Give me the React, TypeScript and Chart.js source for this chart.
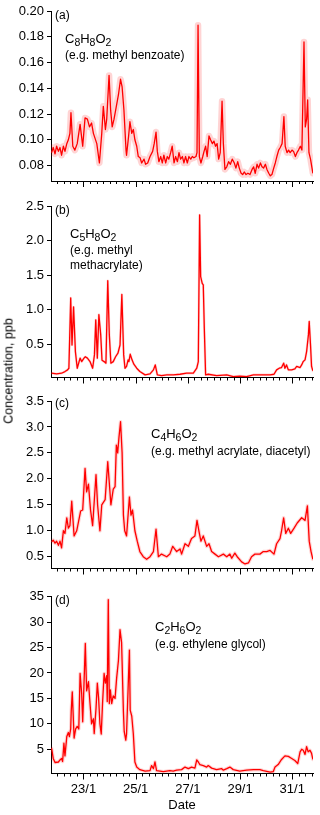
import React, { useEffect, useRef } from 'react';
import { Chart, registerables } from 'chart.js';

Chart.register(...registerables);

const FONT = '"Liberation Sans", Arial, Helvetica, sans-serif';
const AXIS = '#000000';
const LINE = '#ff0000';

// ---- x axis (days of January) ----
const X_MIN = 21.755;
const X_MAX = 31.795;
const X_LABEL_DAYS = [23, 25, 27, 29, 31];
const X_MONTH = 1;

// ---- (a) C8H8O2 ----
const A_T = [21.78,21.84,21.91,21.97,22.04,22.10,22.16,22.23,22.29,22.36,
  22.42,22.48,22.52,22.59,22.67,22.76,22.87,22.97,23.06,23.15,
  23.23,23.31,23.38,23.51,23.61,23.70,23.76,23.84,23.89,23.98,
  24.04,24.10,24.17,24.25,24.34,24.42,24.48,24.55,24.63,24.65,
  24.73,24.78,24.85,24.91,24.97,25.04,25.10,25.17,25.23,25.32,
  25.38,25.46,25.55,25.65,25.71,25.78,25.83,25.89,25.96,26.02,
  26.08,26.15,26.21,26.27,26.34,26.40,26.47,26.53,26.60,26.66,
  26.72,26.79,26.85,26.91,26.98,27.04,27.11,27.17,27.23,27.31,
  27.35,27.39,27.44,27.50,27.57,27.62,27.68,27.74,27.81,27.87,
  27.94,28.00,28.06,28.12,28.18,28.24,28.31,28.36,28.42,28.49,
  28.56,28.63,28.70,28.78,28.84,28.91,28.97,29.04,29.10,29.16,
  29.23,29.30,29.38,29.46,29.52,29.58,29.65,29.71,29.78,29.84,
  29.90,29.97,30.03,30.10,30.16,30.22,30.29,30.35,30.41,30.48,
  30.54,30.61,30.68,30.73,30.80,30.86,30.92,30.99,31.05,31.12,
  31.18,31.24,31.31,31.37,31.45,31.50,31.55,31.59,31.64,31.70,
  31.79];
const A_V = [0.090,0.094,0.089,0.095,0.091,0.094,0.088,0.095,0.091,0.097,
  0.100,0.105,0.121,0.095,0.092,0.097,0.112,0.095,0.117,0.116,
  0.110,0.113,0.105,0.097,0.082,0.105,0.126,0.108,0.116,0.150,
  0.123,0.110,0.116,0.125,0.135,0.147,0.141,0.123,0.092,0.088,
  0.103,0.114,0.105,0.108,0.100,0.095,0.087,0.086,0.082,0.085,
  0.081,0.082,0.087,0.091,0.097,0.106,0.091,0.083,0.087,0.082,
  0.088,0.082,0.087,0.085,0.090,0.095,0.082,0.087,0.083,0.090,
  0.085,0.087,0.082,0.087,0.082,0.087,0.085,0.087,0.086,0.087,
  0.090,0.189,0.087,0.082,0.087,0.091,0.095,0.087,0.103,0.100,
  0.097,0.099,0.095,0.097,0.085,0.090,0.130,0.097,0.077,0.079,
  0.083,0.081,0.085,0.082,0.078,0.083,0.078,0.074,0.073,0.075,
  0.073,0.074,0.073,0.077,0.079,0.074,0.081,0.078,0.082,0.079,
  0.078,0.081,0.077,0.074,0.072,0.073,0.078,0.082,0.087,0.092,
  0.094,0.097,0.118,0.095,0.090,0.092,0.090,0.092,0.091,0.087,
  0.090,0.092,0.095,0.092,0.176,0.110,0.116,0.131,0.090,0.085,
  0.074];
const A_YTICKS = [0.08, 0.10, 0.12, 0.14, 0.16, 0.18, 0.20];

// ---- (b) C5H8O2 ----
const B_T = [21.78,21.97,22.16,22.29,22.39,22.44,22.51,22.56,22.62,22.69,
  22.76,22.87,22.93,23.02,23.07,23.15,23.25,23.35,23.42,23.47,
  23.53,23.59,23.66,23.71,23.79,23.86,23.93,23.99,24.05,24.14,
  24.23,24.32,24.40,24.47,24.54,24.59,24.65,24.71,24.74,24.79,
  24.86,24.93,25.04,25.16,25.36,25.55,25.68,25.75,25.83,25.99,
  26.19,26.44,26.70,26.95,27.21,27.34,27.40,27.45,27.49,27.55,
  27.59,27.63,27.68,27.78,28.10,28.49,28.74,28.99,29.25,29.51,
  29.89,30.15,30.30,30.40,30.50,30.59,30.67,30.72,30.78,30.85,
  30.98,31.10,31.17,31.30,31.36,31.42,31.49,31.55,31.62,31.65,
  31.70,31.74,31.79];
const B_V = [0.082,0.072,0.082,0.106,0.130,0.154,1.17,0.49,1.04,0.395,
  0.154,0.30,0.25,0.30,0.32,0.30,0.25,0.154,0.347,0.853,
  0.30,0.93,0.636,0.27,0.25,0.227,1.42,0.636,0.227,0.25,
  0.32,0.371,0.49,1.22,0.347,0.154,0.18,0.275,0.25,0.356,
  0.275,0.212,0.154,0.106,0.058,0.072,0.13,0.202,0.058,0.048,
  0.058,0.058,0.067,0.082,0.082,0.154,0.25,2.37,1.48,1.38,
  1.36,0.73,0.058,0.067,0.048,0.058,0.034,0.04,0.034,0.058,
  0.058,0.058,0.067,0.13,0.154,0.164,0.227,0.154,0.202,0.13,
  0.13,0.145,0.18,0.164,0.202,0.25,0.275,0.395,0.64,0.83,
  0.49,0.18,0.116];
const B_YTICKS = [0.5, 1.0, 1.5, 2.0, 2.5];

// ---- (c) C4H6O2 ----
const C_T = [21.78,21.84,21.91,21.97,22.04,22.10,22.16,22.23,22.29,22.36,
  22.42,22.48,22.55,22.64,22.74,22.89,22.97,23.06,23.12,23.19,
  23.27,23.35,23.48,23.54,23.63,23.70,23.83,23.93,24.05,24.14,
  24.21,24.26,24.31,24.36,24.42,24.48,24.53,24.58,24.65,24.76,
  24.82,24.88,24.97,25.06,25.16,25.29,25.42,25.55,25.68,25.78,
  25.87,25.99,26.19,26.31,26.42,26.57,26.70,26.76,26.89,27.02,
  27.14,27.27,27.35,27.44,27.50,27.59,27.72,27.81,27.91,28.04,
  28.17,28.36,28.49,28.61,28.68,28.80,28.89,29.06,29.19,29.32,
  29.44,29.57,29.76,29.89,30.02,30.15,30.30,30.40,30.53,30.59,
  30.67,30.75,30.85,30.94,31.07,31.19,31.36,31.49,31.58,31.65,
  31.72,31.79];
const C_V = [0.79,0.82,0.76,0.80,0.72,0.80,0.67,1.00,0.95,1.25,
  1.05,1.10,1.57,0.90,1.00,1.38,1.40,2.20,1.75,1.90,
  1.40,1.10,2.08,1.50,1.00,1.50,1.60,2.33,1.50,1.80,
  1.85,2.65,2.50,2.80,3.10,2.50,1.30,1.00,0.90,1.65,
  1.30,1.40,1.00,0.80,0.60,0.50,0.45,0.50,0.60,1.03,
  0.50,0.55,0.50,0.55,0.70,0.60,0.65,0.55,0.75,0.70,
  0.85,0.90,1.20,0.95,0.80,0.90,0.70,0.75,0.60,0.55,
  0.50,0.55,0.50,0.55,0.47,0.57,0.50,0.40,0.36,0.38,
  0.50,0.55,0.55,0.60,0.60,0.62,0.55,0.75,0.85,1.00,
  1.25,0.95,1.05,0.95,1.05,1.15,1.25,1.20,1.48,0.80,
  0.60,0.45];
const C_YTICKS = [0.5, 1.0, 1.5, 2.0, 2.5, 3.0, 3.5];

// ---- (d) C2H6O2 ----
const D_T = [21.78,21.84,21.91,22.04,22.10,22.16,22.20,22.25,22.29,22.36,
  22.42,22.46,22.51,22.53,22.57,22.64,22.70,22.76,22.82,22.87,
  22.93,22.97,23.02,23.07,23.12,23.19,23.25,23.31,23.38,23.41,
  23.48,23.53,23.58,23.63,23.68,23.73,23.79,23.84,23.89,23.91,
  23.95,23.99,24.03,24.08,24.14,24.21,24.27,24.34,24.40,24.46,
  24.53,24.56,24.62,24.65,24.71,24.76,24.79,24.85,24.91,24.97,
  25.04,25.16,25.36,25.55,25.61,25.68,25.74,25.80,26.06,26.31,
  26.44,26.57,26.76,26.89,27.02,27.14,27.27,27.34,27.40,27.46,
  27.59,27.72,27.78,27.91,28.10,28.29,28.36,28.49,28.61,28.74,
  28.99,29.25,29.51,29.76,29.89,30.15,30.27,30.34,30.46,30.59,
  30.72,30.85,30.98,31.10,31.21,31.30,31.36,31.42,31.49,31.55,
  31.61,31.68,31.74,31.79];
const D_V = [5.2,3.2,2.4,2.5,2.9,3.2,2.6,6.2,3.7,7.5,
  8.3,7.5,9.0,12.5,16.3,7.2,9.0,9.5,9.0,19.9,
  16.0,10.4,18.0,25.8,16.5,18.3,14.0,10.0,11.0,8.1,
  13.0,18.0,15.0,10.0,8.0,14.0,19.9,18.0,19.5,14.4,
  34.4,14.0,16.7,14.0,15.5,15.0,19.0,22.5,28.5,26.0,
  12.4,8.5,6.8,8.0,17.0,24.5,12.7,11.5,8.0,2.5,
  1.5,1.0,0.7,0.8,1.8,1.2,2.5,0.8,0.6,0.8,
  0.7,0.9,1.0,1.5,1.2,1.5,1.3,2.9,2.5,2.0,
  1.8,1.5,1.8,1.3,1.0,1.2,0.9,1.2,1.5,1.0,
  0.7,0.9,1.0,1.0,0.8,0.5,0.6,1.5,2.0,3.0,
  3.7,3.6,3.2,2.8,2.2,4.5,5.0,4.8,4.0,5.5,
  4.5,4.8,4.2,3.0];
const D_YTICKS = [5, 10, 15, 20, 25, 30, 35];

const Y_TITLE = 'Concentration, ppb';
const X_TITLE = 'Date';

type Panel = {
  letter: string; formula: string; notes: string[];
  t: number[]; v: number[]; yTicks: number[]; yMin: number; yMax: number; decimals: number;
  band: number; areaTop: number; areaBottom: number; canvasTop: number; canvasHeight: number;
  textX: number; formulaBase: number; noteBase: number; letterBase: number; last: boolean;
};

const PANELS: Panel[] = [
  { letter: '(a)', formula: 'C8H8O2', notes: ['(e.g. methyl benzoate)'], t: A_T, v: A_V, yTicks: A_YTICKS,
    yMin: 0.068, yMax: 0.20, decimals: 2, band: 6.5, areaTop: 11, areaBottom: 181, canvasTop: 0, canvasHeight: 195,
    textX: 65, formulaBase: 43, noteBase: 59, letterBase: 19, last: false },
  { letter: '(b)', formula: 'C5H8O2', notes: ['(e.g. methyl', 'methacrylate)'], t: B_T, v: B_V, yTicks: B_YTICKS,
    yMin: 0.02, yMax: 2.5, decimals: 1, band: 2.5, areaTop: 206, areaBottom: 377.5, canvasTop: 195, canvasHeight: 195,
    textX: 70, formulaBase: 238, noteBase: 254, letterBase: 214, last: false },
  { letter: '(c)', formula: 'C4H6O2', notes: ['(e.g. methyl acrylate, diacetyl)'], t: C_T, v: C_V, yTicks: C_YTICKS,
    yMin: 0.273, yMax: 3.5, decimals: 1, band: 3.5, areaTop: 401, areaBottom: 568.5, canvasTop: 390, canvasHeight: 195,
    textX: 151, formulaBase: 438, noteBase: 455, letterBase: 407, last: false },
  { letter: '(d)', formula: 'C2H6O2', notes: ['(e.g. ethylene glycol)'], t: D_T, v: D_V, yTicks: D_YTICKS,
    yMin: 0.24, yMax: 35, decimals: 0, band: 3.5, areaTop: 596.7, areaBottom: 773.5, canvasTop: 585, canvasHeight: 230,
    textX: 155, formulaBase: 631, noteBase: 648, letterBase: 604, last: true },
];

function PanelChart({ p }: { p: Panel }) {
  const ref = useRef<HTMLCanvasElement | null>(null);
  useEffect(() => {
    const canvas = ref.current;
    if (!canvas) return;
    const top = p.canvasTop;
    const xHeight = p.canvasTop + p.canvasHeight - p.areaBottom;
    const pts = p.t.map((t, i) => ({ x: t, y: p.v[i] }));
    const decor = {
      id: 'decor',
      afterDraw(chart: any) {
        const ctx = chart.ctx;
        const xs = chart.scales.x;
        const area = chart.chartArea;
        ctx.save();
        ctx.strokeStyle = AXIS;
        ctx.lineWidth = 1;
        xs.ticks.forEach((tk: any) => {
          const px = Math.round(xs.getPixelForValue(tk.value)) + 0.5;
          const major = X_LABEL_DAYS.includes(tk.value);
          ctx.beginPath();
          ctx.moveTo(px, area.bottom);
          ctx.lineTo(px, area.bottom + (major ? 6 : 3));
          ctx.stroke();
        });
        ctx.fillStyle = '#000';
        ctx.textAlign = 'left';
        ctx.textBaseline = 'alphabetic';
        ctx.font = `12px ${FONT}`;
        ctx.fillText(p.letter, 55, p.letterBase - top);
        let x = p.textX;
        for (const ch of p.formula) {
          const sub = /[0-9]/.test(ch);
          ctx.font = sub ? `10.5px ${FONT}` : `13px ${FONT}`;
          ctx.fillText(ch, x, p.formulaBase - top + (sub ? 3 : 0));
          x += ctx.measureText(ch).width;
        }
        ctx.font = `12px ${FONT}`;
        p.notes.forEach((line, i) => ctx.fillText(line, p.textX, p.noteBase - top + i * 15));
        ctx.restore();
      },
    };
    const chart = new Chart(canvas, {
      type: 'line',
      data: {
        datasets: [
          { data: pts, borderColor: LINE, borderWidth: 1.3, borderJoinStyle: 'round', pointRadius: 0, tension: 0, fill: false },
          { data: pts, borderColor: 'rgba(255,0,0,0.17)', borderWidth: p.band, borderJoinStyle: 'round', borderCapStyle: 'round', pointRadius: 0, tension: 0, fill: false },
        ],
      },
      options: {
        responsive: false,
        animation: false,
        devicePixelRatio: 1,
        events: [],
        layout: { padding: { top: p.areaTop - p.canvasTop, left: 0, right: 320 - 313, bottom: 0 } },
        plugins: { legend: { display: false }, tooltip: { enabled: false } },
        scales: {
          x: {
            type: 'linear',
            min: X_MIN,
            max: X_MAX,
            afterFit: (s: any) => { s.height = xHeight; },
            afterBuildTicks: (s: any) => {
              const ticks: any[] = [];
              for (let q = Math.ceil(X_MIN * 4); q <= Math.floor(X_MAX * 4); q++) ticks.push({ value: q / 4 });
              s.ticks = ticks;
            },
            grid: { display: false, drawTicks: true, tickLength: 6 },
            border: { display: true, color: AXIS, width: 1 },
            ticks: {
              display: p.last,
              autoSkip: false,
              maxRotation: 0,
              minRotation: 0,
              padding: 2,
              color: '#000',
              font: { family: FONT, size: 13 },
              callback: (v: any) => (X_LABEL_DAYS.includes(Number(v)) ? `${v}/${X_MONTH}` : ''),
            },
            title: { display: p.last, text: X_TITLE, color: '#000', font: { family: FONT, size: 13 }, padding: { top: 0, bottom: 2 } },
          },
          y: {
            type: 'linear',
            min: p.yMin,
            max: p.yMax,
            afterFit: (s: any) => { s.width = 51; },
            afterBuildTicks: (s: any) => { s.ticks = p.yTicks.map((v) => ({ value: v })); },
            grid: { display: true, drawOnChartArea: false, drawTicks: true, tickLength: 4, color: AXIS },
            border: { display: true, color: AXIS, width: 1 },
            ticks: {
              padding: 3,
              color: '#000',
              font: { family: FONT, size: 13 },
              callback: (v: any) => Number(v).toFixed(p.decimals),
            },
          },
        },
      },
      plugins: [decor],
    } as any);
    return () => chart.destroy();
  }, [p]);
  return (
    <canvas
      ref={ref}
      width={320}
      height={p.canvasHeight}
      style={{ position: 'absolute', left: 0, top: p.canvasTop, width: 320, height: p.canvasHeight, display: 'block' }}
    />
  );
}

export default function App() {
  return (
    <div style={{ position: 'absolute', left: 0, top: 0, width: 320, height: 815, background: '#fff', overflow: 'hidden' }}>
      {PANELS.map((p) => (
        <PanelChart key={p.letter} p={p} />
      ))}
      <div
        style={{
          position: 'absolute', left: 8.5, top: 371, transform: 'translate(-50%, -50%) rotate(-90deg)',
          whiteSpace: 'nowrap', fontFamily: FONT, fontSize: 12.5, color: '#000', lineHeight: '15px',
        }}
      >
        {Y_TITLE}
      </div>
    </div>
  );
}
